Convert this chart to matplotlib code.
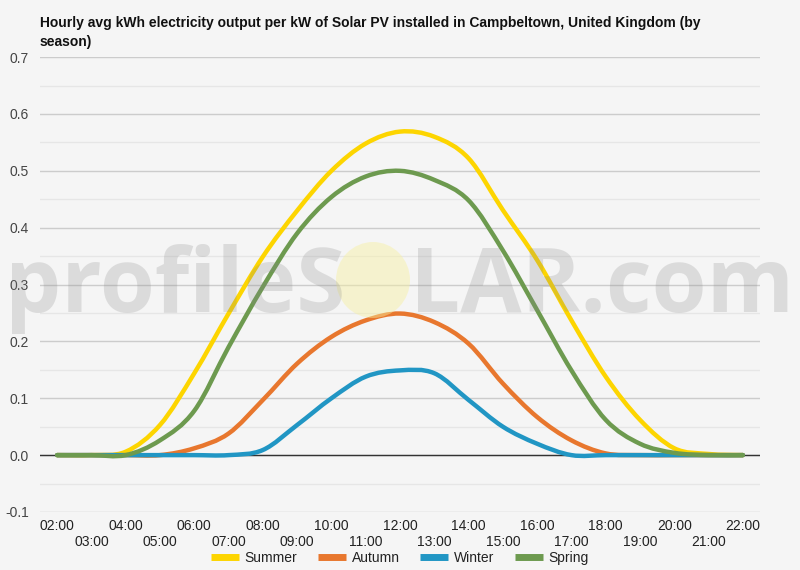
import numpy as np
import matplotlib.pyplot as plt
from matplotlib.path import Path
from matplotlib.patches import PathPatch, Ellipse
from matplotlib.lines import Line2D

plt.rcParams['font.family'] = ['Liberation Sans', 'DejaVu Sans']

# hourly values (kWh per kW)
hours = ['%02d:00' % h for h in range(2, 23)]
summer = [0, 0, 0.006, 0.053, 0.144, 0.249, 0.349, 0.43, 0.50, 0.548, 0.569,
          0.56, 0.522, 0.431, 0.343, 0.237, 0.138, 0.062, 0.012, 0.002, 0]
autumn = [0, 0, 0, 0, 0.012, 0.038, 0.097, 0.161, 0.208, 0.237, 0.249,
          0.234, 0.196, 0.126, 0.067, 0.026, 0.003, 0, 0, 0, 0]
winter = [0, 0, 0, 0, 0, 0, 0.009, 0.053, 0.10, 0.138, 0.149,
          0.144, 0.097, 0.05, 0.02, 0, 0, 0, 0, 0, 0]
spring = [0, 0, 0, 0.026, 0.078, 0.19, 0.296, 0.39, 0.454, 0.49, 0.50,
          0.484, 0.448, 0.36, 0.255, 0.149, 0.062, 0.02, 0.004, 0, 0]

series = [('Summer', summer, '#fdd500'),
          ('Autumn', autumn, '#e8772e'),
          ('Winter', winter, '#2196c4'),
          ('Spring', spring, '#6d9a4f')]


def smooth_path(x, y, k=1/6):
    # cubic bezier through every point (catmull-rom style tangents)
    x = np.asarray(x, float)
    y = np.asarray(y, float)
    n = len(x)
    verts = [(x[0], y[0])]
    codes = [Path.MOVETO]
    for i in range(n - 1):
        i0 = max(i - 1, 0)
        i3 = min(i + 2, n - 1)
        c1 = (x[i] + (x[i + 1] - x[i0]) * k, y[i] + (y[i + 1] - y[i0]) * k)
        c2 = (x[i + 1] - (x[i3] - x[i]) * k, y[i + 1] - (y[i3] - y[i]) * k)
        verts += [c1, c2, (x[i + 1], y[i + 1])]
        codes += [Path.CURVE4] * 3
    return Path(verts, codes)


bg = '#f5f5f5'
fig = plt.figure(figsize=(8, 5.7), dpi=100, facecolor=bg)
ax = fig.add_axes([0.05, 0.1018, 0.9, 0.798], facecolor=bg)

xi = np.arange(len(hours))
for name, vals, col in series:
    ax.add_patch(PathPatch(smooth_path(xi, vals), fill=False, edgecolor=col,
                           lw=3.2, capstyle='round', joinstyle='round', zorder=3))

ax.set_xlim(-0.5, len(hours) - 0.5)
ax.set_ylim(-0.1, 0.7)
ax.set_yticks(np.arange(-0.1, 0.71, 0.1))
ax.set_yticklabels(['-0.1', '0.0', '0.1', '0.2', '0.3', '0.4', '0.5', '0.6', '0.7'])
ax.set_yticks(np.arange(-0.05, 0.7, 0.1), minor=True)
ax.grid(axis='y', which='major', color='#cccccc', lw=1, zorder=0)
ax.grid(axis='y', which='minor', color='#e6e6e6', lw=1, zorder=0)
ax.axhline(0, color='#333333', lw=1, zorder=2)
ax.tick_params(axis='y', which='both', length=0, labelsize=10, labelcolor='#444444', pad=8)

ax.set_xticks(xi)
ax.set_xticklabels([h if i % 2 == 0 else '\n' + h for i, h in enumerate(hours)])
ax.tick_params(axis='x', length=0, labelsize=10, labelcolor='#222222', pad=5)
for s in ax.spines.values():
    s.set_visible(False)

fig.text(0.05, 0.972, 'Hourly avg kWh electricity output per kW of Solar PV installed in Campbeltown, United Kingdom (by\nseason)',
         fontsize=10, fontweight='bold', color='#111111', va='top', ha='left', linespacing=1.45)

# watermark
wm = dict(fontsize=64, color='#888888', alpha=0.23, family='Open Sans', fontweight='bold',
          va='baseline', zorder=10)
fig.text(0.006, (570 - 312) / 570, 'profileS', ha='left', **wm)
fig.text(0.993, (570 - 312) / 570, 'LAR.com', ha='right', **wm)
fig.add_artist(Ellipse((373 / 800, (570 - 280) / 570), 74 / 800, 76 / 570,
                       transform=fig.transFigure, facecolor='#f7f0a0', alpha=0.45,
                       edgecolor='none', zorder=10))

handles = [Line2D([], [], color=c, lw=5, solid_capstyle='butt') for _, _, c in series]
fig.legend(handles, [s[0] for s in series], loc='center', bbox_to_anchor=(0.5, (570 - 558) / 570),
           ncol=4, frameon=False, fontsize=10, handlelength=2.0, handletextpad=0.4,
           columnspacing=1.5, labelcolor='#222222')

fig.savefig('out.png', dpi=100, facecolor=bg)
